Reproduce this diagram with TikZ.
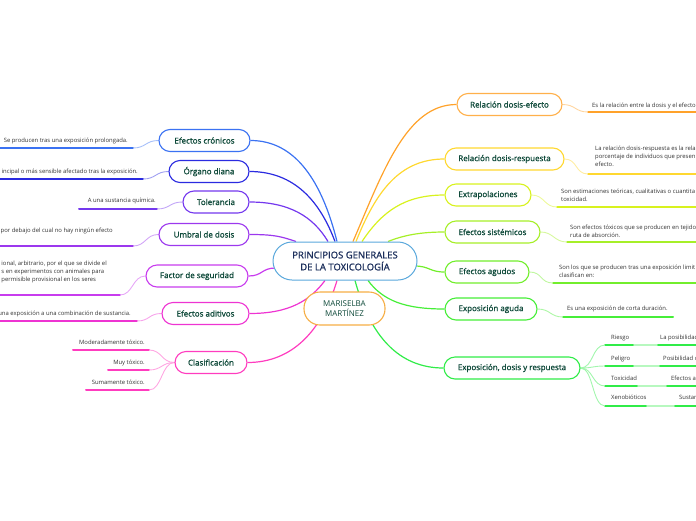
\documentclass[tikz,border=0pt]{standalone}
\usepackage{fontspec}
\setmainfont{Open Sans}
\newfontfamily\nodefont{Open Sans}[FakeBold=1.1]
\usetikzlibrary{calc}
\definecolor{cron}{HTML}{3B72F2}
\definecolor{organo}{HTML}{2B2BE0}
\definecolor{tol}{HTML}{7438EE}
\definecolor{umb}{HTML}{9C38EE}
\definecolor{fac}{HTML}{C83CEE}
\definecolor{adi}{HTML}{EE34D2}
\definecolor{cla}{HTML}{FF3CBF}
\definecolor{ef}{HTML}{FFA22A}
\definecolor{re}{HTML}{FFD830}
\definecolor{ex}{HTML}{D8F21E}
\definecolor{si}{HTML}{A6EF28}
\definecolor{ag}{HTML}{72EE2C}
\definecolor{ea}{HTML}{46EE38}
\definecolor{ed}{HTML}{30EC48}
\definecolor{centerb}{HTML}{5AA8DC}
\definecolor{marb}{HTML}{F6AE45}
\definecolor{ttext}{HTML}{0F4A3A}
\definecolor{ctext}{HTML}{1C2F5C}
\definecolor{ltext}{HTML}{333333}
\pgfdeclarelayer{bg}
\pgfsetlayers{bg,main}
\begin{document}
\begin{tikzpicture}[x=1pt,y=-1pt,
  topic/.style={draw, line width=1.1pt, fill=white, rounded corners=11pt,
    minimum height=22pt, inner sep=0pt, font=\nodefont\fontsize{8}{9.6}\selectfont, text=ttext},
  leaft/.style={inner sep=0pt, font=\fontsize{5.9}{8}\selectfont, text=ltext},
  mainc/.style={line width=1.2pt},
  leafl/.style={line width=2pt, line cap=round},
  link/.style={line width=0.9pt}]
\useasboundingbox (0,0) rectangle (696,520);

% central nodes
\node[draw=centerb, line width=1pt, fill=white, rounded corners=19pt, minimum width=144pt,
  minimum height=38pt, inner sep=0pt, align=center, text=ctext,
  font=\nodefont\fontsize{9.5}{12}\selectfont] (main) at (345,261) {PRINCIPIOS GENERALES\\DE LA TOXICOLOGÍA};
\node[draw=marb, line width=1.1pt, fill=white, rounded corners=16pt, minimum width=81pt,
  minimum height=33pt, inner sep=0pt, align=center, text=ttext,
  font=\fontsize{8}{10}\selectfont] (mar) at (344.5,308.5) {MARISELBA\\MARTÍNEZ};

% left topics
\node[topic, draw=cron, minimum width=91pt] (cron) at (204.5,140.5) {Efectos crónicos};
\node[topic, draw=organo, minimum width=80pt] (organo) at (209,171.5) {Órgano diana};
\node[topic, draw=tol, minimum width=66pt] (tol) at (216,202) {Tolerancia};
\node[topic, draw=umb, minimum width=90pt] (umb) at (204,234.5) {Umbral de dosis};
\node[topic, draw=fac, minimum width=102pt] (fac) at (197,276) {Factor de seguridad};
\node[topic, draw=adi, minimum width=87pt] (adi) at (205.5,313.5) {Efectos aditivos};
\node[topic, draw=cla, minimum width=72pt] (cla) at (211,362.5) {Clasificación};

% right topics
\node[topic, draw=ef!85, minimum width=105pt] (ef) at (509.5,104.5) {Relación dosis-efecto};
\node[topic, draw=re, minimum width=119pt] (re) at (504.5,159) {Relación dosis-respuesta};
\node[topic, draw=ex, minimum width=86pt] (ex) at (488,195) {Extrapolaciones};
\node[topic, draw=si, minimum width=95pt] (si) at (492.5,232) {Efectos sistémicos};
\node[topic, draw=ag, minimum width=84pt] (ag) at (487,272) {Efectos agudos};
\node[topic, draw=ea, minimum width=92pt] (ea) at (491,309) {Exposición aguda};
\node[topic, draw=ed, minimum width=136pt] (ed) at (512,368) {Exposición, dosis y respuesta};

% leaf coordinates (left)
\coordinate (cronA) at (0,148);   \coordinate (cronB) at (133,148);
\coordinate (orgA) at (0,179);    \coordinate (orgB) at (143,179);
\coordinate (tolA) at (79,209);   \coordinate (tolB) at (157,209);
\coordinate (umbA) at (0,246);    \coordinate (umbB) at (133,246);
\coordinate (facA) at (0,295);    \coordinate (facB) at (120,295);
\coordinate (adiA) at (0,321);    \coordinate (adiB) at (137,321);
\coordinate (claA1) at (73,350);  \coordinate (claB1) at (149,350);
\coordinate (claA2) at (108,370); \coordinate (claB2) at (149,370);
\coordinate (claA3) at (86,390);  \coordinate (claB3) at (149,390);
% leaf coordinates (right)
\coordinate (efA) at (588,112);   \coordinate (efB) at (696,112);
\coordinate (reA) at (588,174);   \coordinate (reB) at (696,174);
\coordinate (exA) at (557,207);   \coordinate (exB) at (696,207);
\coordinate (siA) at (567,242);   \coordinate (siB) at (696,242);
\coordinate (agA) at (553,283);   \coordinate (agB) at (696,283);
\coordinate (eaA) at (563,317);   \coordinate (eaB) at (673,317);
\coordinate (r1A) at (605,345); \coordinate (r1B) at (634,345); \coordinate (r1C) at (658,345); \coordinate (r1D) at (696,345);
\coordinate (r2A) at (605,366); \coordinate (r2B) at (634,366); \coordinate (r2C) at (660,366); \coordinate (r2D) at (696,366);
\coordinate (r3A) at (605,386); \coordinate (r3B) at (638,386); \coordinate (r3C) at (667,386); \coordinate (r3D) at (696,386);
\coordinate (r4A) at (605,406); \coordinate (r4B) at (647,406); \coordinate (r4C) at (675,406); \coordinate (r4D) at (696,406);

\begin{pgfonlayer}{bg}
% main connectors
\draw[mainc, cron] ($(main.north)+(-8,0)$) .. controls +(-15,-60) and +(45,0) .. (cron.east);
\draw[mainc, organo] ($(main.north)+(-10,0)$) .. controls +(-15,-40) and +(45,0) .. (organo.east);
\draw[mainc, tol] ($(main.north)+(-17,0)$) .. controls +(-15,-25) and +(40,0) .. (tol.east);
\draw[mainc, umb] ($(main.north)+(-49,0)$) .. controls +(-15,-5) and +(25,0) .. (umb.east);
\draw[mainc, fac] ($(main.west)+(3,7)$) .. controls +(-14,0) and +(14,0) .. (fac.east);
\draw[mainc, adi] ($(main.south)+(-20,0)$) .. controls +(-15,20) and +(40,0) .. (adi.east);
\draw[mainc, cla] ($(main.south)+(-8,0)$) .. controls +(-15,50) and +(45,0) .. (cla.east);
\draw[mainc, ef] ($(main.north)+(8,0)$) .. controls +(30,-70) and +(-50,0) .. (ef.west);
\draw[mainc, re] ($(main.north)+(11,0)$) .. controls +(20,-50) and +(-45,0) .. (re.west);
\draw[mainc, ex] ($(main.north)+(17,0)$) .. controls +(20,-30) and +(-40,0) .. (ex.west);
\draw[mainc, si] ($(main.north)+(43,0)$) .. controls +(15,-6) and +(-25,0) .. (si.west);
\draw[mainc, ag] ($(main.east)+(-3,5)$) .. controls +(15,0) and +(-15,0) .. (ag.west);
\draw[mainc, ea] ($(main.south)+(23,0)$) .. controls +(15,20) and +(-40,0) .. (ea.west);
\draw[mainc, ed] ($(main.south)+(10,0)$) .. controls +(15,55) and +(-45,0) .. (ed.west);

% left leaves
\draw[leafl, cron] (cronA) -- (cronB);
\draw[link, cron!45] (cron.west) .. controls +(-13,0) and +(13,0) .. (cronB);
\draw[leafl, organo] (orgA) -- (orgB);
\draw[link, organo!45] (organo.west) .. controls +(-13,0) and +(13,0) .. (orgB);
\draw[leafl, tol] (tolA) -- (tolB);
\draw[link, tol!45] (tol.west) .. controls +(-13,0) and +(13,0) .. (tolB);
\draw[leafl, umb] (umbA) -- (umbB);
\draw[link, umb!45] (umb.west) .. controls +(-13,0) and +(13,0) .. (umbB);
\draw[leafl, fac] (facA) -- (facB);
\draw[link, fac!45] (fac.west) .. controls +(-13,0) and +(13,0) .. (facB);
\draw[leafl, adi] (adiA) -- (adiB);
\draw[link, adi!45] (adi.west) .. controls +(-13,0) and +(13,0) .. (adiB);
\draw[leafl, cla] (claA1) -- (claB1);
\draw[leafl, cla] (claA2) -- (claB2);
\draw[leafl, cla] (claA3) -- (claB3);
\draw[link, cla!45] (cla.west) .. controls +(-13,0) and +(13,0) .. (claB1);
\draw[link, cla!45] (cla.west) .. controls +(-13,0) and +(13,0) .. (claB2);
\draw[link, cla!45] (cla.west) .. controls +(-13,0) and +(13,0) .. (claB3);

% right leaves
\draw[leafl, ef] (efA) -- (efB);
\draw[link, ef!45] (ef.east) .. controls +(13,0) and +(-13,0) .. (efA);
\draw[leafl, re] (reA) -- (reB);
\draw[link, re!45] (re.east) .. controls +(13,0) and +(-13,0) .. (reA);
\draw[leafl, ex] (exA) -- (exB);
\draw[link, ex!45] (ex.east) .. controls +(13,0) and +(-13,0) .. (exA);
\draw[leafl, si] (siA) -- (siB);
\draw[link, si!45] (si.east) .. controls +(13,0) and +(-13,0) .. (siA);
\draw[leafl, ag] (agA) -- (agB);
\draw[link, ag!45] (ag.east) .. controls +(13,0) and +(-13,0) .. (agA);
\draw[leafl, ea] (eaA) -- (eaB);
\draw[link, ea!45] (ea.east) .. controls +(13,0) and +(-13,0) .. (eaA);
\foreach \r in {r1,r2,r3,r4}{
  \draw[leafl, ed] (\r A) -- (\r B);
  \draw[leafl, ed!35] (\r B) -- (\r C);
  \draw[leafl, ed] (\r C) -- (\r D);
  \draw[link, ed!45] (ed.east) .. controls +(13,0) and +(-13,0) .. (\r A);
}
\end{pgfonlayer}

% left leaf texts
\node[leaft, anchor=base east] (cronT) at (128,142) {Se producen tras una exposición prolongada.};
\node[leaft, anchor=base east] (orgT) at (138,173) {incipal o más sensible afectado tras la exposición.};
\node[leaft, anchor=base east] (tolT) at (156,202) {A una sustancia química.};
\node[leaft, anchor=base east] (umbT) at (113,232) {por debajo del cual no hay ningún efecto};
\node[leaft, anchor=north east, align=left] (facT) at (107,260.4) {ional, arbitrario, por el que se divide el\\s en experimentos con animales para\\permisible provisional en los seres};
\node[leaft, anchor=base east] (adiT) at (131,315) {una exposición a una combinación de sustancia.};
\node[leaft, anchor=base east] (claT1) at (145,344) {Moderadamente tóxico.};
\node[leaft, anchor=base east] (claT2) at (145,364) {Muy tóxico.};
\node[leaft, anchor=base east] (claT3) at (145,384) {Sumamente tóxico.};

% right leaf texts
\node[leaft, anchor=base west] (efT) at (592,107) {Es la relación entre la dosis y el efecto};
\node[leaft, anchor=north west, align=left] (reT) at (595,145.4) {La relación dosis-respuesta es la rela\\porcentaje de individuos que presen\\efecto.};
\node[leaft, anchor=north west, align=left] (exT) at (561,188.4) {Son estimaciones teóricas, cualitativas o cuantita\\toxicidad.};
\node[leaft, anchor=north west, align=left] (siT) at (570,224.4) {Son efectos tóxicos que se producen en tejido\\ruta de absorción.};
\node[leaft, anchor=north west, align=left] (agT) at (559,264.4) {Son los que se producen tras una exposición limit\\clasifican en:};
\node[leaft, anchor=base west] (eaT) at (567,310) {Es una exposición de corta duración.};
\node[leaft, anchor=base west] (r1T) at (611,339) {Riesgo};
\node[leaft, anchor=base west] (r1U) at (660,339) {La posibilidad};
\node[leaft, anchor=base west] (r2T) at (611,360) {Peligro};
\node[leaft, anchor=base west] (r2U) at (663,360) {Posibilidad d};
\node[leaft, anchor=base west] (r3T) at (611,380) {Toxicidad};
\node[leaft, anchor=base west] (r3U) at (671,380) {Efectos a};
\node[leaft, anchor=base west] (r4T) at (611,399) {Xenobióticos};
\node[leaft, anchor=base west] (r4U) at (679,399) {Sustan};
\end{tikzpicture}
\end{document}
